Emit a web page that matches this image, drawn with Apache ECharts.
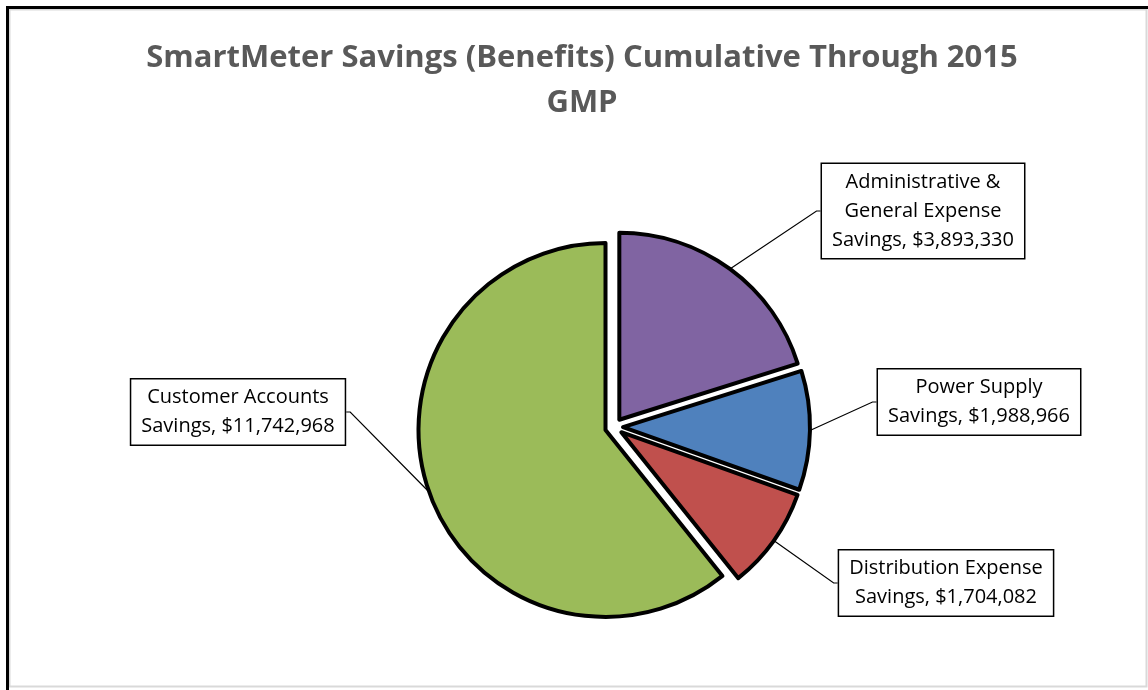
<!DOCTYPE html>
<html>
<head>
<meta charset="utf-8">
<title>SmartMeter Savings</title>
<script src="https://cdn.jsdelivr.net/npm/echarts@6/dist/echarts.min.js"></script>
<style>
  html, body { margin: 0; padding: 0; background: #fff; }
  #chart { width: 1148px; height: 690px; }
</style>
</head>
<body>
<div id="chart"></div>
<script>
  // data
  const categories = [
    'Administrative &\nGeneral Expense\nSavings',
    'Power Supply\nSavings',
    'Distribution Expense\nSavings',
    'Customer Accounts\nSavings'
  ]
  const values = [3893330, 1988966, 1704082, 11742968]
  const colors = ['#8064A2', '#4F81BD', '#C0504D', '#9BBB59']

  // where each callout box sits (centre of the box)
  const labelSpots = [
    [923, 211],
    [979, 402],
    [946, 583],
    [238, 412]
  ]

  const fmt = v => '$' + v.toLocaleString('en-US')

  const chart = echarts.init(document.getElementById('chart'))

  const pieCenter = [614, 427]

  const option = {
    animation: false,
    backgroundColor: '#fff',
    title: {
      text: 'SmartMeter Savings (Benefits) Cumulative Through 2015\nGMP',
      left: 577,
      top: 31,
      textAlign: 'center',
      textStyle: {
        fontFamily: 'Open Sans',
        fontWeight: 'bold',
        fontSize: 31,
        lineHeight: 45,
        color: '#595959'
      }
    },
    graphic: [
      {
        type: 'rect',
        shape: { x: 9.5, y: 9.5, width: 1137, height: 677 },
        style: { fill: 'none', stroke: '#d9d9d9', lineWidth: 2 }
      },
      {
        type: 'polyline',
        shape: { points: [[7.5, 690], [7.5, 7.5], [1148, 7.5]] },
        style: { fill: 'none', stroke: '#000', lineWidth: 3 }
      }
    ],
    series: [
      // the exploded slices
      {
        type: 'pie',
        center: pieCenter,
        radius: 187,
        startAngle: 90,
        clockwise: true,
        selectedMode: 'multiple',
        selectedOffset: 9,
        silent: true,
        itemStyle: {
          borderColor: '#000',
          borderWidth: 4
        },
        label: { show: false },
        labelLine: { show: false },
        data: categories.map((name, i) => ({
          name: name,
          value: values[i],
          selected: true,
          itemStyle: { color: colors[i] }
        }))
      },
      // same data, invisible, carries the callout labels
      {
        type: 'pie',
        center: pieCenter,
        radius: 196,
        startAngle: 90,
        clockwise: true,
        silent: true,
        itemStyle: { color: 'rgba(0,0,0,0)', borderWidth: 0 },
        label: {
          show: true,
          position: 'outside',
          formatter: p => p.name.replace(/Savings$/, 'Savings, ' + fmt(p.value)),
          fontFamily: 'Open Sans',
          fontSize: 20,
          lineHeight: 29,
          color: '#000',
          align: 'center',
          backgroundColor: '#fff',
          borderColor: '#000',
          borderWidth: 1.5,
          padding: [4, 10, 3, 10]
        },
        labelLine: {
          show: true,
          length: 20,
          length2: 4,
          lineStyle: { color: '#000', width: 1.2 }
        },
        labelLayout: params => {
          const spot = labelSpots[params.dataIndex]
          return {
            x: spot[0],
            y: spot[1],
            align: 'center',
            verticalAlign: 'middle'
          }
        },
        data: categories.map((name, i) => ({ name: name, value: values[i] }))
      }
    ]
  }

  chart.setOption(option)

  window.addEventListener('resize', () => chart.resize())
</script>
</body>
</html>
